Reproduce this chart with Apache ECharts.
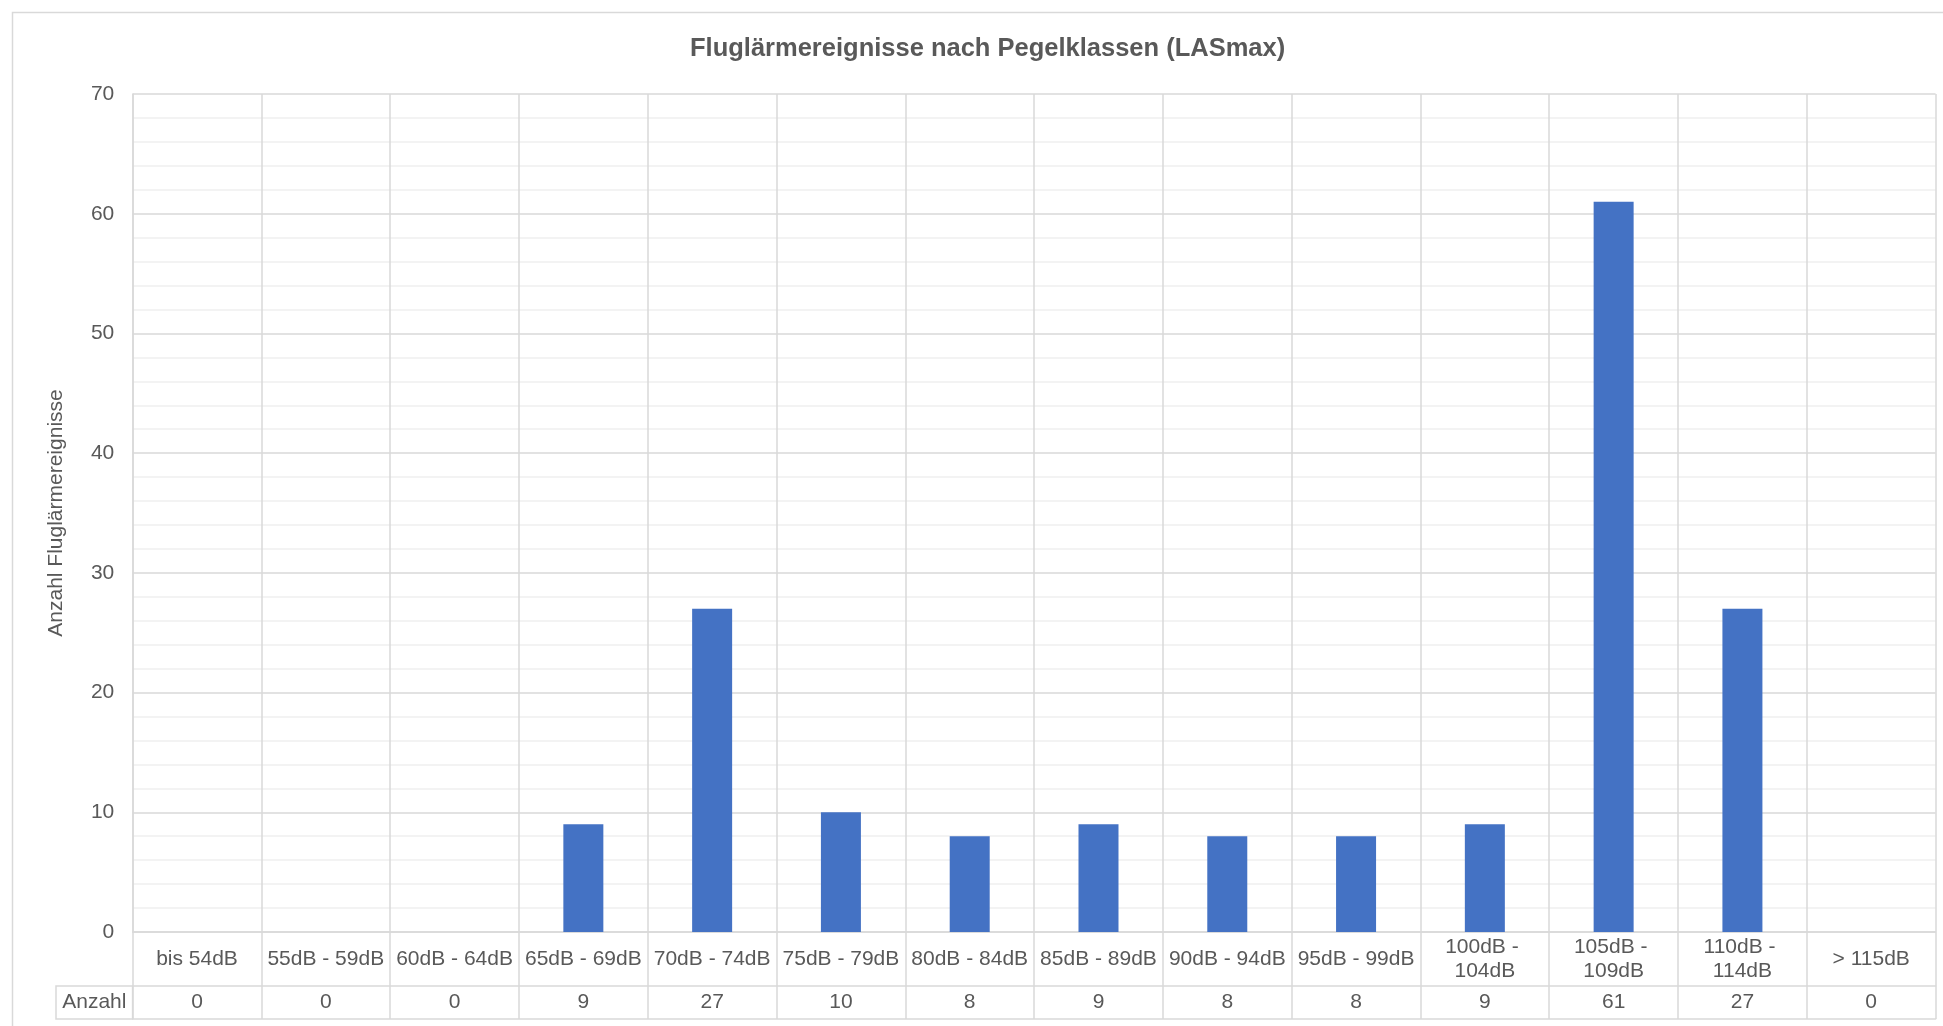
<!DOCTYPE html>
<html>
<head>
<meta charset="utf-8">
<script src="https://cdn.jsdelivr.net/npm/echarts@6/dist/echarts.min.js"></script>
<style>
html,body{margin:0;padding:0;background:#fff;}
#chart{width:1943px;height:1026px;}
</style>
</head>
<body>
<div id="chart"></div>
<script>
const title = 'Fluglärmereignisse nach Pegelklassen (LASmax)';
const yAxisTitle = 'Anzahl Fluglärmereignisse';
const tableRowName = 'Anzahl';
const categories = ['bis 54dB','55dB - 59dB','60dB - 64dB','65dB - 69dB','70dB - 74dB','75dB - 79dB','80dB - 84dB','85dB - 89dB','90dB - 94dB','95dB - 99dB','100dB - 104dB','105dB - 109dB','110dB - 114dB','> 115dB'];
const values = [0,0,0,9,27,10,8,9,8,8,9,61,27,0];
const yMin = 0, yMax = 70, yStep = 10;

const FONT = '"Liberation Sans", Arial, sans-serif';
const TXT = '#595959';
const GRID = '#d9d9d9';
const MINOR = '#f0f0f0';
const LW = 1.5;

const chart = echarts.init(document.getElementById('chart'), null, {renderer:'canvas'});
const option = {
  backgroundColor: '#ffffff',
  animation: false,
  title: {
    text: title, left: 690, top: 36.5, padding: 0,
    textStyle: {fontFamily: FONT, fontSize: 25.5, fontWeight: 'bold', color: TXT, lineHeight: 25}
  },
  grid: {left: 132.6, right: 7.4, top: 94, bottom: 94, containLabel: false},
  xAxis: [
    {
      type: 'category', data: categories, gridIndex: 0, position: 'bottom',
      axisLine: {show: true, lineStyle: {color: GRID, width: LW}},
      axisTick: {show: true, interval: 0, length: 87, lineStyle: {color: GRID, width: LW}},
      splitLine: {show: true, interval: 0, lineStyle: {color: GRID, width: LW}},
      axisLabel: {interval: 0, margin: 27, verticalAlign: 'middle', width: 126, overflow: 'break',
        lineHeight: 24, fontFamily: FONT, fontSize: 21, color: TXT}
    },
    {
      type: 'category', data: categories, gridIndex: 0, position: 'bottom', offset: 54,
      axisLine: {show: true, lineStyle: {color: GRID, width: LW}},
      axisTick: {show: false},
      splitLine: {show: false},
      axisLabel: {interval: 0, margin: 16.5, verticalAlign: 'middle', fontFamily: FONT, fontSize: 21, color: TXT,
        formatter: function (v, i) { return String(values[i]); }}
    },
    {
      type: 'category', data: categories, gridIndex: 0, position: 'bottom', offset: 87,
      axisLine: {show: true, lineStyle: {color: GRID, width: LW}},
      axisTick: {show: false}, axisLabel: {show: false}, splitLine: {show: false}
    }
  ],
  yAxis: {
    type: 'value', min: yMin, max: yMax, interval: yStep,
    name: yAxisTitle, nameLocation: 'middle', nameGap: 65.5,
    nameTextStyle: {fontFamily: FONT, fontSize: 21, color: TXT},
    axisLine: {show: true, lineStyle: {color: GRID, width: LW}},
    axisTick: {show: false},
    axisLabel: {margin: 18.3, fontFamily: FONT, fontSize: 21, color: TXT},
    splitLine: {show: true, lineStyle: {color: GRID, width: LW}},
    minorTick: {show: false, splitNumber: 5},
    minorSplitLine: {show: true, lineStyle: {color: MINOR, width: LW}}
  },
  graphic: [
    {type: 'rect', left: 10, top: 10, shape: {x: 0, y: 0, width: 1960, height: 1060},
      style: {fill: 'none', stroke: GRID, lineWidth: LW}, silent: true, z: -10},
    {type: 'rect', shape: {x: 56, y: 986, width: 76.6, height: 33},
      style: {fill: 'none', stroke: GRID, lineWidth: LW}, silent: true},
    {type: 'text', x: 94.3, y: 1002.5,
      style: {text: tableRowName, textAlign: 'center', textVerticalAlign: 'middle', fontFamily: FONT, fontSize: 21, fill: TXT}}
  ],
  series: [{
    type: 'bar', data: values, xAxisIndex: 0, yAxisIndex: 0,
    barWidth: 40, itemStyle: {color: '#4472C4'}
  }]
};
chart.setOption(option);
</script>
</body>
</html>
